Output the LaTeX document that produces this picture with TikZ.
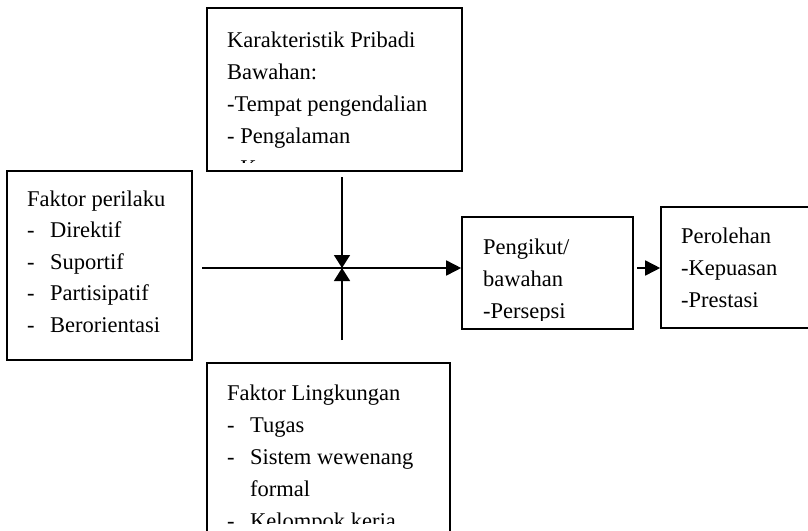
\documentclass[tikz,border=0pt]{standalone}
\usepackage{fontspec}
\setmainfont{Liberation Serif}
\usetikzlibrary{positioning,arrows.meta}
\newcommand\dashitem[1]{\makebox[23pt][l]{-}#1}

\begin{document}
\begin{tikzpicture}[x=1pt, y=-1pt,
    box/.style={draw, line width=1.6pt, rectangle, inner sep=0pt},
    txt/.style={anchor=base west, align=left, inner sep=0pt, font=\fontsize{22.5}{32}\selectfont},
    arrow/.style={line width=1.6pt, -{Triangle[length=15pt,width=15pt]}},
    varrow/.style={line width=1.6pt, -{Triangle[length=13pt,width=16pt]}},
]
\useasboundingbox (0,0) rectangle (808,530);

% boxes
\node[box, minimum width=255pt, minimum height=163pt] (karakter) at (334.5,89.5) {};
\node[box, minimum width=185pt, minimum height=189pt] (perilaku) at (99.5,265.5) {};
\node[box, minimum width=171pt, minimum height=112pt] (pengikut) at (547.5,273) {};
\node[box, minimum width=154pt, minimum height=121pt] (perolehan) at (738,267.5) {};
\node[box, minimum width=243pt, minimum height=182pt] (lingkungan) at (328.5,454) {};

% texts (placed at the baseline of their last line)
\begin{scope}
  \clip (207,8) rectangle (462,162);
  \node[txt] (karakter-t) at (227,175) {Karakteristik Pribadi\\Bawahan:\\-Tempat pengendalian\\- Pengalaman\\- Kemampuan};
\end{scope}
\node[txt, font=\fontsize{22.5}{31.5}\selectfont] (perilaku-t) at (27,332) {Faktor perilaku\\\dashitem{Direktif}\\\dashitem{Suportif}\\\dashitem{Partisipatif}\\\dashitem{Berorientasi}};
\begin{scope}
  \clip (462,217) rectangle (633,320);
  \node[txt] (pengikut-t) at (483,318) {Pengikut/\\bawahan\\-Persepsi};
\end{scope}
\node[txt] (perolehan-t) at (681,307) {Perolehan\\-Kepuasan\\-Prestasi};
\begin{scope}
  \clip (207,363) rectangle (450,523);
  \node[txt] (lingkungan-t) at (227,528) {Faktor Lingkungan\\\dashitem{Tugas}\\\dashitem{Sistem wewenang}\\\hspace*{23pt}formal\\\dashitem{Kelompok kerja}};
\end{scope}

% connectors
\coordinate (junction) at (342,268);
\coordinate (hstart) at (202,268);
\coordinate (ktop) at (342,177);
\coordinate (lbot) at (342,340);
\coordinate (pstart) at (637,268);
\draw[arrow] (hstart) -- (hstart -| pengikut.west);
\draw[varrow] (ktop) -- (junction);
\draw[varrow] (lbot) -- (junction);
\draw[arrow] (pstart) -- (pstart -| perolehan.west);
\end{tikzpicture}
\end{document}
